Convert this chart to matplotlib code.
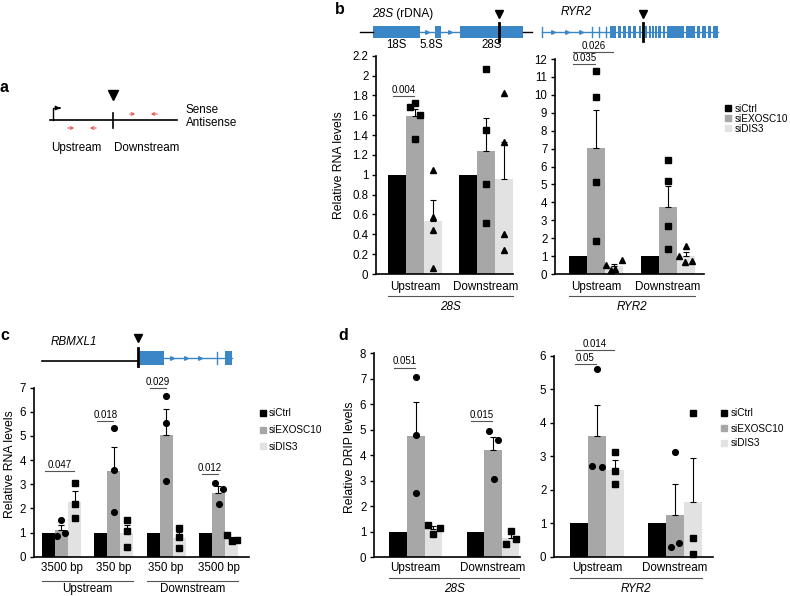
import numpy as np
import matplotlib.pyplot as plt
from matplotlib.lines import Line2D
from matplotlib.patches import Rectangle
from matplotlib.ticker import FuncFormatter

plt.rcParams['font.family'] = ['Liberation Sans', 'DejaVu Sans']

W, H = 790, 596
CONDS = ['siCtrl', 'siEXOSC10', 'siDIS3']
COLS = ['#000000', '#a7a7a7', '#e2e2e2']
BLUE = '#3b86c6'
RED = '#e8574d'
LINE = '#555555'

# ---- panel b, 28S rDNA (relative RNA levels, n=4)
b28_groups = ['Upstream', 'Downstream']
b28_ctrl = [1.0, 1.0]
b28_exo = [1.59, 1.24]
b28_dis3 = [0.53, 0.96]
b28_exo_top = [1.66, 1.57]
b28_dis3_top = [0.75, 1.33]
b28_exo_pts = [[1.68, 1.72, 1.60, 1.36], [2.07, 1.45, 0.91, 0.51]]
b28_dis3_pts = [[1.05, 0.57, 0.44, 0.06], [1.82, 1.33, 0.40, 0.24]]
b28_sig = [(0, 1, '0.004', 1.79)]

# ---- panel b, RYR2
bry_groups = ['Upstream', 'Downstream']
bry_ctrl = [1.0, 1.0]
bry_exo = [7.02, 3.75]
bry_dis3 = [0.42, 1.0]
bry_exo_top = [9.17, 4.9]
bry_dis3_top = [0.57, 1.25]
bry_exo_pts = [[11.33, 9.9, 5.13, 1.82], [6.34, 5.19, 2.66, 1.39]]
bry_dis3_pts = [[0.52, 0.24, 0.28, 0.76], [0.99, 1.54, 0.65, 0.74]]
bry_sig = [(0, 1, '0.035', 11.7), (0, 2, '0.026', 12.41)]

# ---- panel c, RBMXL1
c_groups = ['3500 bp', '350 bp', '350 bp', '3500 bp']
c_regions = ['Upstream', 'Downstream']
c_ctrl = [1.0, 1.0, 1.0, 1.0]
c_exo = [1.12, 3.55, 5.05, 2.63]
c_dis3 = [2.28, 0.97, 0.78, 0.72]
c_exo_top = [1.32, 4.55, 6.12, 2.92]
c_dis3_top = [2.71, 1.30, 1.02, 0.80]
c_exo_pts = [[0.86, 1.52, 0.99], [5.32, 3.6, 1.85], [6.65, 5.55, 3.15], [3.06, 2.8, 2.18]]
c_dis3_pts = [[3.06, 2.2, 1.6], [1.5, 1.05, 0.4], [1.2, 0.8, 0.35], [0.91, 0.66, 0.69]]
c_sig = [(0, 2, '0.047', 3.56), (1, 1, '0.018', 5.63), (2, 1, '0.029', 6.97), (3, 1, '0.012', 3.42)]

# ---- panel d, 28S (relative DRIP levels, n=3)
d28_groups = ['Upstream', 'Downstream']
d28_ctrl = [1.0, 1.0]
d28_exo = [4.75, 4.2]
d28_dis3 = [1.1, 0.75]
d28_exo_top = [6.1, 4.72]
d28_dis3_top = [1.2, 0.9]
d28_exo_pts = [[7.05, 4.78, 2.51], [4.93, 4.58, 3.05]]
d28_dis3_pts = [[1.25, 0.9, 1.14], [0.51, 1.03, 0.72]]
d28_sig = [(0, 1, '0.051', 7.44), (1, 1, '0.015', 5.35)]

# ---- panel d, RYR2
dry_groups = ['Upstream', 'Downstream']
dry_ctrl = [1.0, 1.0]
dry_exo = [3.6, 1.25]
dry_dis3 = [2.6, 1.62]
dry_exo_top = [4.53, 2.18]
dry_dis3_top = [2.89, 2.95]
dry_exo_pts = [[2.71, 2.69, 5.6], [0.3, 0.42, 3.12]]
dry_dis3_pts = [[3.13, 2.57, 2.17], [4.28, 0.57, 0.09]]
dry_sig = [(0, 1, '0.05', 5.75), (0, 2, '0.014', 6.17)]

# horizontal spread of replicate dots (in bar widths)
b28_jit = [[[-0.28, 0, 0.28, 0], [0, 0, 0, 0]], [[0, 0, 0, 0], [0, 0, 0, 0]]]
bry_jit = [[[0, 0, 0, 0], [0, 0, 0, 0]], [[-0.42, -0.19, 0.08, 0.47], [-0.4, 0, -0.07, 0.35]]]
c_jit = [[[-0.33, -0.04, 0.27], [0, 0, 0], [0, 0, 0], [-0.27, 0.32, 0.03]],
         [[0, 0, 0], [0, 0, 0], [0, 0, 0], [-0.37, 0, 0.43]]]
d28_jit = [[[0, 0, 0], [-0.21, 0.3, 0.07]], [[-0.33, 0, 0.4], [-0.25, 0, 0.29]]]
dry_jit = [[[-0.3, 0.26, 0], [-0.24, 0.24, 0]], [[0, 0, 0], [0, 0, 0]]]

fig = plt.figure(figsize=(W / 100, H / 100), dpi=100)


def px_axes(l, t, r, b):
    return fig.add_axes([l / W, 1 - b / H, (r - l) / W, (b - t) / H])


def draw_bars(ax, means, tops, pts, marks, jit, w):
    x = np.arange(len(means[0]))
    for j in range(3):
        xs = x + (j - 1) * w
        ax.bar(xs, means[j], width=w, color=COLS[j], linewidth=0, zorder=1)
        if tops[j] is not None:
            m = np.array(means[j])
            err = np.array(tops[j]) - m
            ax.errorbar(xs, m, yerr=[np.zeros_like(err), err], fmt='none', ecolor='black',
                        elinewidth=0.8, capsize=2, capthick=0.8, zorder=2)
        if pts[j] is not None:
            for g, vals in enumerate(pts[j]):
                off = np.array(jit[j - 1][g]) * w
                ax.plot(xs[g] + off, vals, ls='none', marker=marks[j], ms=4.1,
                        color='black', zorder=3, clip_on=False)


def style(ax, ymax, step, xlim, labels, pad):
    ax.set_xlim(*xlim)
    ax.set_ylim(0, ymax)
    ax.set_yticks(np.arange(0, ymax + 1e-9, step))
    ax.yaxis.set_major_formatter(FuncFormatter(lambda v, p: f'{round(v, 2):g}'))
    ax.set_xticks(np.arange(len(labels)))
    ax.set_xticklabels(labels)
    for s in ['top', 'right']:
        ax.spines[s].set_visible(False)
    for s in ['left', 'bottom']:
        ax.spines[s].set_linewidth(1.2)
    ax.tick_params(axis='y', length=3, width=1, labelsize=8.3, pad=2.5)
    ax.tick_params(axis='x', length=0, labelsize=8.4, pad=pad)
    ax.patch.set_alpha(0)


def sig(ax, w, items):
    for g, j, txt, y in items:
        x0 = g - w - 0.25 * w
        x1 = g + (j - 1) * w - 0.05 * w
        ax.plot([x0, x1], [y, y], color=LINE, lw=0.8, clip_on=False)
        ax.annotate(txt, ((x0 + x1) / 2, y), xytext=(0, 0.8), textcoords='offset points',
                    ha='center', va='bottom', fontsize=7, annotation_clip=False)


def region(ax, x0, x1, name, dline, dtext, italic):
    hpx = ax.get_position().height * H
    tr = ax.get_xaxis_transform()
    ax.plot([x0, x1], [-dline / hpx] * 2, transform=tr, color=LINE, lw=0.8, clip_on=False)
    ax.text((x0 + x1) / 2, -dtext / hpx, name, transform=tr, ha='center', va='center',
            fontsize=8.4, style='italic' if italic else 'normal')


def legend(ax, x, y, spacing):
    hs = [Line2D([], [], ls='none', marker='s', ms=3.8, color=c) for c in COLS]
    ax.legend(hs, CONDS, loc='upper left', bbox_to_anchor=(x / W, 1 - y / H),
              bbox_transform=fig.transFigure, frameon=False, fontsize=7.2,
              handlelength=0.7, handletextpad=0.3, borderpad=0, borderaxespad=0,
              labelspacing=spacing)


# ---- b left
w = 0.25
ax = px_axes(376, 55.7, 513.3, 274)
draw_bars(ax, [b28_ctrl, b28_exo, b28_dis3], [None, b28_exo_top, b28_dis3_top],
          [None, b28_exo_pts, b28_dis3_pts], [None, 's', '^'], b28_jit, w)
style(ax, 2.2, 0.2, (-0.548, 1.381), b28_groups, 4.7)
sig(ax, w, b28_sig)
region(ax, -1.5 * w, 1 + 1.5 * w, '28S', 21.7, 32.7, True)

# ---- b right
ax = px_axes(555, 59, 704, 274)
draw_bars(ax, [bry_ctrl, bry_exo, bry_dis3], [None, bry_exo_top, bry_dis3_top],
          [None, bry_exo_pts, bry_dis3_pts], [None, 's', '^'], bry_jit, w)
style(ax, 12, 1, (-0.569, 1.5), bry_groups, 4.7)
sig(ax, w, bry_sig)
region(ax, -1.5 * w, 1 + 1.5 * w, 'RYR2', 21.7, 32.7, True)
legend(ax, 724.5, 103.5, 0.02)

# ---- c
ax = px_axes(33.5, 387.7, 249, 556.7)
draw_bars(ax, [c_ctrl, c_exo, c_dis3], [None, c_exo_top, c_dis3_top],
          [None, c_exo_pts, c_dis3_pts], [None, 'o', 's'], c_jit, w)
style(ax, 7, 1, (-0.535, 3.583), c_groups, 3.7)
sig(ax, w, c_sig)
region(ax, -1.5 * w, 1 + 1.5 * w, c_regions[0], 24.3, 32.6, False)
region(ax, 2 - 1.5 * w, 3 + 1.5 * w, c_regions[1], 24.3, 32.6, False)
legend(ax, 259, 408.5, 0.65)

# ---- d left
w = 0.228
ax = px_axes(374, 353.3, 520, 557)
draw_bars(ax, [d28_ctrl, d28_exo, d28_dis3], [None, d28_exo_top, d28_dis3_top],
          [None, d28_exo_pts, d28_dis3_pts], [None, 'o', 's'], d28_jit, w)
style(ax, 8, 1, (-0.541, 1.35), d28_groups, 3.6)
sig(ax, w, d28_sig)
region(ax, -1.5 * w, 1 + 1.5 * w, '28S', 21.3, 32.3, True)

# ---- d right
w = 0.23
ax = px_axes(554, 355.7, 713, 556.7)
draw_bars(ax, [dry_ctrl, dry_exo, dry_dis3], [None, dry_exo_top, dry_dis3_top],
          [None, dry_exo_pts, dry_dis3_pts], [None, 'o', 's'], dry_jit, w)
style(ax, 6, 1, (-0.551, 1.487), dry_groups, 3.6)
sig(ax, w, dry_sig)
region(ax, -1.5 * w, 1 + 1.5 * w, 'RYR2', 21.3, 32.3, True)
legend(ax, 720.5, 408.5, 0.5)

# ---- overlay for schematics and labels (pixel space)
ov = fig.add_axes([0, 0, 1, 1])
ov.set_xlim(0, W)
ov.set_ylim(H, 0)
ov.axis('off')
ov.patch.set_alpha(0)

for txt, x, y in [('a', 0, 88), ('b', 335, 10), ('c', 0, 336), ('d', 338, 335)]:
    ov.text(x, y, txt, fontsize=11.5, fontweight='bold', ha='left', va='center')

ov.text(339.3, 165, 'Relative RNA levels', rotation=90, ha='center', va='center', fontsize=8.8)
ov.text(10, 464, 'Relative RNA levels', rotation=90, ha='center', va='center', fontsize=8.8)
ov.text(350, 457.5, 'Relative DRIP levels', rotation=90, ha='center', va='center', fontsize=8.8)

# panel a: primer layout
ov.plot([50, 177], [120, 120], color='black', lw=1.2)
ov.plot([113, 113], [113, 128], color='black', lw=1.2)
ov.plot([113], [94.5], marker='v', color='black', ms=7.5)
ov.plot([53, 53, 58], [120, 108, 108], color='black', lw=1)
ov.annotate('', xy=(63, 108), xytext=(57, 108),
            arrowprops=dict(arrowstyle='-|>', color='black', lw=1, mutation_scale=6))
for x0, x1, y in [(127, 138, 114), (160, 148, 114), (65, 77, 128), (99, 87, 128)]:
    ov.annotate('', xy=(x1, y), xytext=(x0, y),
                arrowprops=dict(arrowstyle='->', color=RED, lw=0.8, mutation_scale=5))
ov.text(186, 110, 'Sense', fontsize=8.4, va='center')
ov.text(186, 123.5, 'Antisense', fontsize=8.4, va='center')
ov.text(76.7, 148, 'Upstream', fontsize=8.4, ha='center', va='center')
ov.text(146.5, 148, 'Downstream', fontsize=8.4, ha='center', va='center')


def gene(y, exons, introns, ticks, arrows, h=12):
    for x0, x1 in introns:
        ov.plot([x0, x1], [y, y], color=BLUE, lw=1)
    for x0, x1 in exons:
        ov.add_patch(Rectangle((x0, y - h / 2), x1 - x0, h, color=BLUE, lw=0))
    for x in ticks:
        ov.plot([x, x], [y - h / 2 + 1, y + h / 2 - 1], color=BLUE, lw=1)
    ov.plot(arrows, [y] * len(arrows), ls='none', marker='>', ms=2.6, color=BLUE)


def cut(x, y, ytri):
    ov.plot([x, x], [y - 9, y + 9], color='black', lw=2)
    ov.plot([x], [ytri], marker='v', color='black', ms=6)


# 28S rDNA unit
ov.plot([360, 373], [32, 32], color='black', lw=1)
ov.plot([523, 532], [32, 32], color='black', lw=1)
gene(32, [(373, 420), (435, 441), (460, 523)], [(420, 435), (441, 460)], [], [427, 450])
cut(499, 32, 14)
t = ov.text(372, 14, '28S', fontsize=8.6, style='italic', va='center')
ov.annotate(' (rDNA)', xy=(1, 0.5), xycoords=t, fontsize=8.6, va='center')
for lab, x in [('18S', 396.7), ('5.8S', 431), ('28S', 491.7)]:
    ov.text(x, 45, lab, fontsize=8.3, ha='center', va='center')

# RYR2
ryr2_exons = [(610, 616), (618, 621), (623, 626), (628, 631), (633, 636), (639, 641),
              (645, 647), (649, 650.5), (652, 653.5), (655, 656.5), (658, 661), (663, 665),
              (667, 684), (686, 695), (697, 700), (702, 706), (708, 711), (713, 718)]
gene(32, ryr2_exons, [(541.7, 718)], [541.7, 591.7, 599, 606], [553, 567, 581])
cut(642.7, 32, 14)
ov.text(576, 12, 'RYR2', fontsize=8.6, style='italic', ha='center', va='center')

# RBMXL1
ov.plot([41.7, 138.3], [360.7, 360.7], color='black', lw=1.2)
gene(358, [(140, 164.3), (225, 231.7)], [(164.3, 231.7)], [217.3], [171.7, 186, 200], h=14)
cut(138.3, 357, 338)
ov.text(74, 342, 'RBMXL1', fontsize=8.4, style='italic', ha='center', va='center')

fig.savefig('out.png', dpi=100)
